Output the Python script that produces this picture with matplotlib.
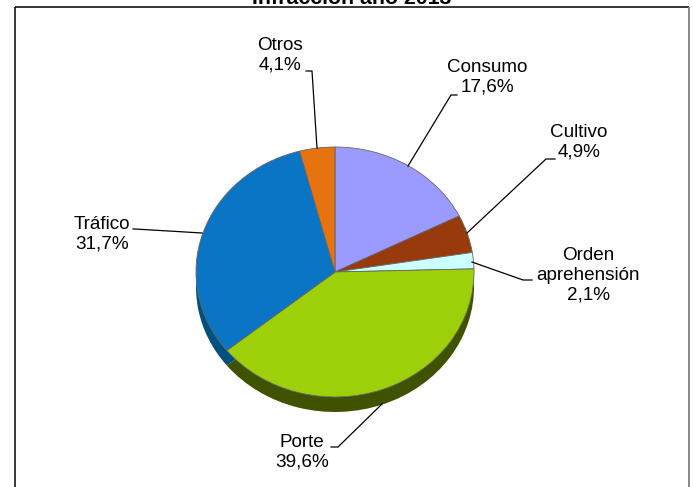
import matplotlib
matplotlib.use('Agg')
import matplotlib.pyplot as plt

plt.rcParams['font.family'] = 'Liberation Sans'

W, H = 693, 487

## the data
categorias = ['Consumo', 'Cultivo', 'Orden\naprehensión', 'Porte', 'Tráfico', 'Otros']
valores = [17.6, 4.9, 2.1, 39.6, 31.7, 4.1]
etiquetas = ['17,6%', '4,9%', '2,1%', '39,6%', '31,7%', '4,1%']
titulo = 'Infracción año 2013'

colores = ['#9b9bff', '#993a0c', '#ccffff', '#9dd008', '#0a75c4', '#e6730f']
oscuros = ['#5c5c99', '#5c1f00', '#7a9999', '#3f5200', '#00507f', '#8a4509']

fig = plt.figure(figsize=(W / 100, H / 100), dpi=100)

# page overlay in pixels, for frame and title
bg = fig.add_axes([0, 0, 1, 1])
bg.set_xlim(0, W)
bg.set_ylim(H, 0)
bg.axis('off')
bg.plot([15, 15], [H, 7], color='black', lw=1.1, solid_capstyle='butt')
bg.plot([15, 689], [7, 7], color='black', lw=1.1, solid_capstyle='butt')
bg.plot([689, 689], [7, H], color='#808080', lw=1.3, solid_capstyle='butt')
bg.text(352, 3.5, titulo, ha='center', va='baseline', fontsize=15.3, fontweight='bold')

# pie axes: unit circle stretched to the flattened ellipse
cx, cy, rx, ry = 335, 272, 139, 125
ax = fig.add_axes([(cx - rx) / W, 1 - (cy + ry) / H, 2 * rx / W, 2 * ry / H])
ax.pie(valores, colors=oscuros, startangle=90, counterclock=False, radius=1,
       center=(0, -15 / ry), frame=False, wedgeprops={'linewidth': 0, 'clip_on': False})
ax.pie(valores, colors=colores, startangle=90, counterclock=False, radius=1,
       center=(0, 0), frame=False,
       wedgeprops={'linewidth': 0.6, 'edgecolor': '#666666', 'clip_on': False})
ax.set_aspect('auto')
ax.set_xlim(-1, 1)
ax.set_ylim(-1, 1)
ax.axis('off')

# leader lines on top of the pie, pixel coordinates
lineas = [
    [(408, 166), (451, 95), (457, 95)],
    [(467, 233), (546, 159), (555, 159)],
    [(472, 262), (523, 280), (532, 280)],
    [(382, 404), (338, 447), (331, 447)],
    [(202, 233), (135, 229), (133, 229)],
    [(317, 148), (312, 71), (306, 71)],
]
top = fig.add_axes([0, 0, 1, 1])
top.set_xlim(0, W)
top.set_ylim(H, 0)
top.axis('off')
for ln in lineas:
    top.plot([p[0] for p in ln], [p[1] for p in ln], color='black', lw=0.9)

posiciones = [(487, 77), (579, 142), (588, 275), (302, 452), (102, 234), (280, 55)]
for nombre, et, (x, y) in zip(categorias, etiquetas, posiciones):
    top.text(x, y, nombre + '\n' + et, ha='center', va='center', fontsize=13.6, linespacing=1.23)

fig.savefig('out.png', dpi=100)
